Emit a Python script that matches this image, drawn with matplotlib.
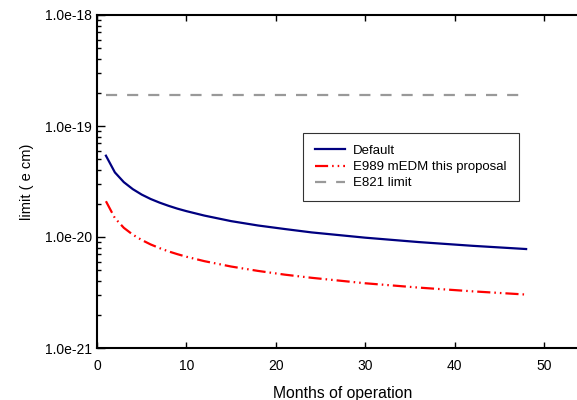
import matplotlib
matplotlib.use("Agg")
import matplotlib.pyplot as plt
from matplotlib.ticker import LogLocator, NullFormatter

plt.rcParams['font.family'] = ['Liberation Sans', 'DejaVu Sans']

# Projected EDM sensitivity vs. running time
months = [1, 2, 3, 4, 5, 6, 7, 8, 9, 10, 12, 15, 18, 21, 24, 30, 36, 42, 48]
default_limit = [5.4e-20, 3.82e-20, 3.12e-20, 2.70e-20, 2.41e-20, 2.20e-20,
                 2.04e-20, 1.91e-20, 1.80e-20, 1.71e-20, 1.56e-20, 1.39e-20,
                 1.27e-20, 1.18e-20, 1.10e-20, 9.86e-21, 9.0e-21, 8.33e-21,
                 7.79e-21]
e989_limit = [2.1e-20, 1.48e-20, 1.21e-20, 1.05e-20, 9.4e-21, 8.57e-21,
              7.94e-21, 7.42e-21, 7.0e-21, 6.64e-21, 6.06e-21, 5.42e-21,
              4.95e-21, 4.58e-21, 4.29e-21, 3.83e-21, 3.5e-21, 3.24e-21,
              3.03e-21]
e821_limit = 1.9e-19

x_ticks = [0, 10, 20, 30, 40, 50]
y_ticks = [1e-21, 1e-20, 1e-19, 1e-18]
y_tick_labels = ["1.0e-21", "1.0e-20", "1.0e-19", "1.0e-18"]

fig = plt.figure(figsize=(5.77, 4.0), dpi=100)
ax = fig.add_axes([97/577, 52/400, 55*8.94/577, 333/400])

lw = 1.6
ax.plot(months, default_limit, color="#000080", lw=lw, label="Default")
ax.plot(months, e989_limit, color="#ff0000", lw=lw,
        dashes=(5.9, 1.8, 0.7, 1.8, 0.7, 1.8), label="E989 mEDM this proposal")
ax.plot([months[0], months[-1]], [e821_limit, e821_limit], color="#999999",
        lw=lw, dashes=(5.0, 4.5), label="E821 limit")

ax.set_yscale("log")
ax.set_ylim(1e-21, 1e-18)
ax.set_xlim(0, 55)

ax.set_yticks(y_ticks)
ax.set_yticklabels(y_tick_labels)
ax.yaxis.set_minor_locator(LogLocator(base=10, subs=range(2, 10)))
ax.yaxis.set_minor_formatter(NullFormatter())
ax.set_xticks(x_ticks)

ax.tick_params(axis="both", which="both", direction="in", labelsize=10,
               top=True, right=False, colors="black")
ax.tick_params(axis="y", which="major", length=6, width=1)
ax.tick_params(axis="y", which="minor", length=3, width=1)
ax.tick_params(axis="x", which="major", length=4, width=1, pad=8)

for side in ("left", "bottom", "top"):
    ax.spines[side].set_linewidth(1.5)
ax.spines["right"].set_visible(False)

ax.set_xlabel("Months of operation", fontsize=11.3, labelpad=9)
ax.set_ylabel("limit ( e cm)", fontsize=10.5, labelpad=8)

leg = ax.legend(loc="upper left", bbox_to_anchor=(303/577, 1 - 133/400),
                bbox_transform=fig.transFigure, borderaxespad=0,
                fontsize=9.5, frameon=True, fancybox=False,
                handlelength=2.3, handletextpad=0.6,
                borderpad=0.9, labelspacing=0.3)
leg.get_frame().set_edgecolor("black")
leg.get_frame().set_linewidth(0.8)

fig.savefig("out.png", dpi=100)
